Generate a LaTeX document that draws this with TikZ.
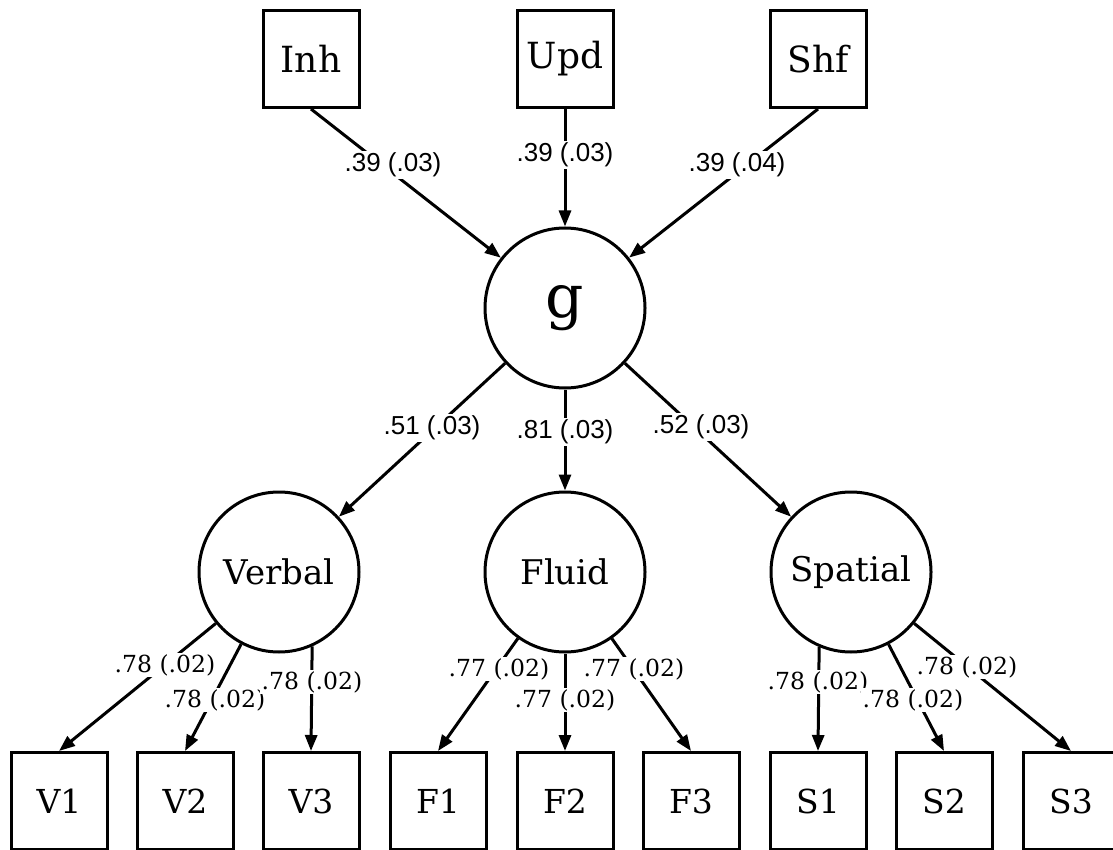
\documentclass[tikz,border=0pt]{standalone}
\usepackage{fontspec}
\setmainfont{DejaVu Serif}
\newfontfamily\labsans{Liberation Sans}
\newfontfamily\labserif{DejaVu Serif}
\usetikzlibrary{arrows.meta}
\begin{document}
\begin{tikzpicture}[x=1pt,y=-1pt,
  obs/.style={draw, line width=3pt, minimum width=96pt, minimum height=97pt, inner sep=0pt, font=\fontsize{33}{40}\selectfont},
  lat/.style={draw, circle, line width=3pt, minimum size=160pt, inner sep=0pt, font=\fontsize{34}{40}\selectfont},
  conn/.style={line width=3pt, -{Triangle[length=16pt,width=12pt]}},
  lbltop/.style={fill=white, inner sep=1.5pt, font=\labsans\fontsize{26}{30}\selectfont},
  lblbot/.style={fill=white, inner sep=1.5pt, font=\labserif\fontsize{23.5}{28}\selectfont}]
\useasboundingbox[fill=white] (0,0) rectangle (1113,850);
% indicators on top
\node[obs, font=\fontsize{36}{40}\selectfont] (Inh) at (311,59) {Inh};
\node[obs, font=\fontsize{36}{40}\selectfont] (Upd) at (565,59) {Upd};
\node[obs, font=\fontsize{36}{40}\selectfont] (Shf) at (818,59) {Shf};
% latent variables
\node[lat, font=\fontsize{60}{64}\selectfont] (g) at (565,308) {g};
\node[lat] (Verbal) at (279,572) {Verbal};
\node[lat] (Fluid) at (565,572) {Fluid};
\node[lat] (Spatial) at (851,572) {Spatial};
% observed tests
\node[obs] (V1) at (59,801) {V1};
\node[obs] (V2) at (185,801) {V2};
\node[obs] (V3) at (311,801) {V3};
\node[obs] (F1) at (438,801) {F1};
\node[obs] (F2) at (565,801) {F2};
\node[obs] (F3) at (691,801) {F3};
\node[obs] (S1) at (818,801) {S1};
\node[obs] (S2) at (944,801) {S2};
\node[obs] (S3) at (1071,801) {S3};
% connectors
\draw[conn] (Inh.south) -- (g);
\draw[conn] (Upd) -- (g);
\draw[conn] (Shf.south) -- (g);
\draw[conn] (g) -- (Verbal);
\draw[conn] (g) -- (Fluid);
\draw[conn] (g) -- (Spatial);
\draw[conn] (Verbal) -- (V1.north);
\draw[conn] (Verbal) -- (V2.north);
\draw[conn] (Verbal.-66.7) -- (V3.north);
\draw[conn] (Fluid) -- (F1.north);
\draw[conn] (Fluid) -- (F2.north);
\draw[conn] (Fluid) -- (F3.north);
\draw[conn] (Spatial.-113.3) -- (S1.north);
\draw[conn] (Spatial) -- (S2.north);
\draw[conn] (Spatial) -- (S3.north);
% labels
\node[lbltop] (l1) at (393,165) {.39 (.03)};
\node[lbltop] (l2) at (565,155) {.39 (.03)};
\node[lbltop] (l3) at (737,165) {.39 (.04)};
\node[lbltop] (l4) at (432,428) {.51 (.03)};
\node[lbltop] (l5) at (565,432) {.81 (.03)};
\node[lbltop] (l6) at (701,427) {.52 (.03)};
\node[lblbot] (l7) at (165,665) {.78 (.02)};
\node[lblbot] (l8) at (215,700) {.78 (.02)};
\node[lblbot] (l9) at (312,682) {.78 (.02)};
\node[lblbot] (l10) at (499,669) {.77 (.02)};
\node[lblbot] (l11) at (565,700) {.77 (.02)};
\node[lblbot] (l12) at (634,669) {.77 (.02)};
\node[lblbot] (l13) at (818,682) {.78 (.02)};
\node[lblbot] (l14) at (913,700) {.78 (.02)};
\node[lblbot] (l15) at (967,667) {.78 (.02)};
\end{tikzpicture}
\end{document}
